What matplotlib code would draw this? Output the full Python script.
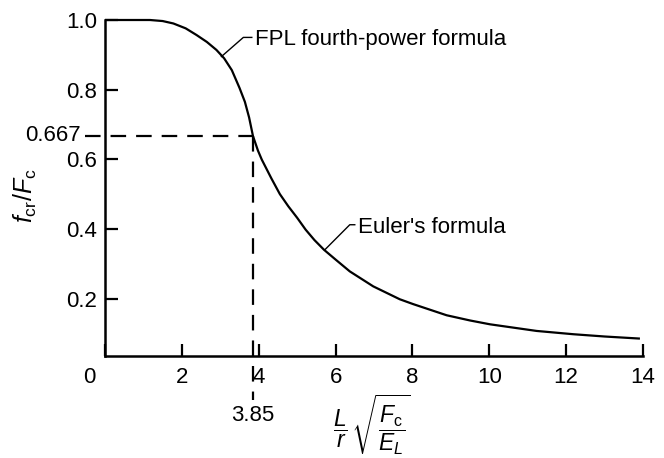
import matplotlib
matplotlib.use("Agg")
import matplotlib.pyplot as plt
import matplotlib.transforms as mtransforms

plt.rcParams['font.family'] = ['Liberation Sans', 'DejaVu Sans']
plt.rcParams['mathtext.fontset'] = 'custom'
plt.rcParams['mathtext.rm'] = 'Liberation Sans'
plt.rcParams['mathtext.it'] = 'Liberation Sans:italic'
plt.rcParams['mathtext.bf'] = 'Liberation Sans:bold'

# Curve (FPL fourth-power formula up to 3.85, Euler beyond)
slenderness = [0.0, 0.6, 1.17, 1.50, 1.78, 2.10, 2.38, 2.65, 2.90, 3.10, 3.30,
               3.50, 3.64, 3.75, 3.85, 3.98, 4.08, 4.33, 4.55, 4.77, 5.00,
               5.22, 5.45, 5.70, 6.00, 6.37, 6.98, 7.67, 8.02, 8.89, 9.50,
               10.02, 11.23, 12.19, 13.00, 13.92]
strength_ratio = [1.0, 1.0, 1.0, 0.997, 0.99, 0.976, 0.957, 0.937, 0.914, 0.89, 0.856,
                  0.805, 0.765, 0.72, 0.667, 0.625, 0.599, 0.545, 0.500, 0.465, 0.432,
                  0.398, 0.368, 0.340, 0.312, 0.278, 0.235, 0.198, 0.184, 0.152, 0.137,
                  0.126, 0.107, 0.0975, 0.091, 0.085]

x_ticks = [0, 2, 4, 6, 8, 10, 12, 14]
x_tick_labels = ['0', '2', '4', '6', '8', '10', '12', '14']
y_ticks = [0.2, 0.4, 0.6, 0.8, 1.0]
y_tick_labels = ['0.2', '0.4', '0.6', '0.8', '1.0']
x_crit = 3.85
y_crit = 0.667

FS = 16

fig = plt.figure(figsize=(6.64, 4.58), dpi=100)
ax = fig.add_axes([105/664, 1-356/458, (643-105)/664, (356-20)/458])
ax.set_xlim(0, 14)
ax.set_ylim(0.035, 1.0)

ax.plot(slenderness, strength_ratio, color='black', lw=1.6, solid_capstyle='butt',
        solid_joinstyle='round', clip_on=False)

# dashed guide lines
ax.plot([-0.52, x_crit], [y_crit, y_crit], color='black', lw=1.6, dashes=(7, 4.5), clip_on=False)
ax.plot([x_crit, x_crit], [y_crit, -0.091], color='black', lw=1.6, dashes=(7, 4.5), clip_on=False)

for s in ['top', 'right']:
    ax.spines[s].set_visible(False)
for s in ['left', 'bottom']:
    ax.spines[s].set_linewidth(1.8)

ax.set_xticks(x_ticks)
ax.set_xticklabels(x_tick_labels)
ax.set_yticks(y_ticks)
ax.set_yticklabels(y_tick_labels)
ax.tick_params(axis='both', direction='in', length=9, width=1.6, labelsize=FS, colors='black')
ax.tick_params(axis='x', pad=8)
ax.tick_params(axis='y', pad=5.5)

# shift the "0" label left, towards the corner
lbl0 = ax.get_xticklabels()[0]
lbl0.set_transform(lbl0.get_transform() + mtransforms.ScaledTranslation(-16/100, 0, fig.dpi_scale_trans))

ax.text(-0.64, y_crit, '0.667', ha='right', va='center', fontsize=FS, clip_on=False)
ax.text(x_crit, -0.136, '3.85', ha='center', va='center', fontsize=FS, clip_on=False)

# annotations
ax.plot([3.03, 3.60, 3.82], [0.895, 0.950, 0.950], color='black', lw=1.0, clip_on=False)
ax.text(3.90, 0.945, 'FPL fourth-power formula', ha='left', va='center', fontsize=FS)
ax.plot([5.72, 6.37, 6.50], [0.340, 0.412, 0.412], color='black', lw=1.0, clip_on=False)
ax.text(6.59, 0.405, "Euler's formula", ha='left', va='center', fontsize=FS)

# axis labels
fig.text(25/664, 1-196/458, r'$f_{\mathrm{cr}}/F_{\mathrm{c}}$', rotation=90,
         ha='center', va='center', fontsize=18)
fig.text(372/664, 1-425/458, r'$\dfrac{L}{r}\,\sqrt{\dfrac{F_{\mathrm{c}}}{E_L}}$',
         ha='center', va='center', fontsize=16.5)

fig.savefig('out.png', dpi=100)
